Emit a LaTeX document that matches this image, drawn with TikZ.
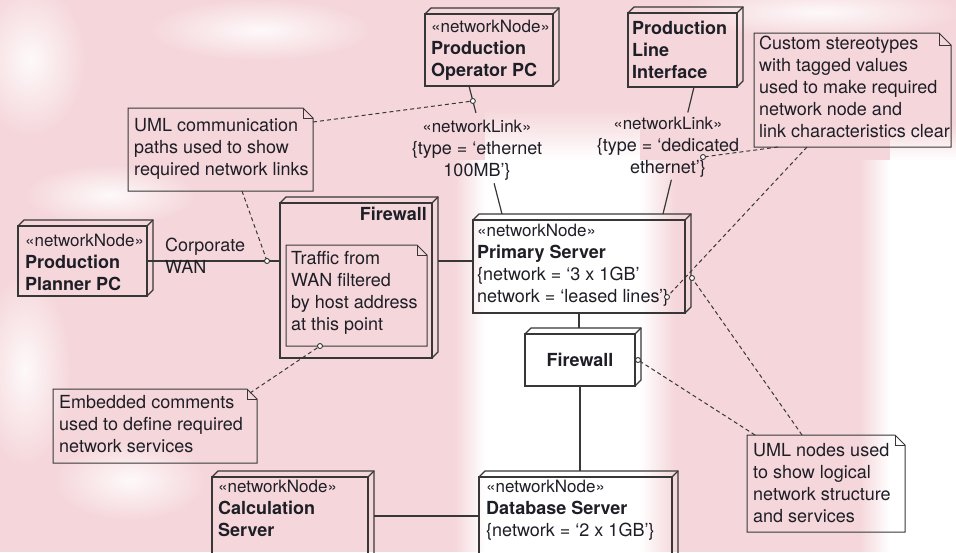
\documentclass[tikz,border=0pt]{standalone}
\usepackage{fontspec}
\setmainfont{TeX Gyre Heros}
\usetikzlibrary{calc}

\definecolor{bgpink}{RGB}{245,215,219}
\definecolor{ink}{RGB}{30,30,38}
\definecolor{edge}{RGB}{55,55,55}

% top and right faces of a 3D deployment node
\newcommand\extrude[1]{%
  \draw[boxline] (#1.north west) -- ([shift={(6pt,6pt)}]#1.north west)
     -- ([shift={(6pt,6pt)}]#1.north east) -- ([shift={(6pt,6pt)}]#1.south east)
     -- (#1.south east);
  \draw[boxline] (#1.north east) -- ([shift={(6pt,6pt)}]#1.north east);
}
% outline of a UML comment with a folded corner
\newcommand\drawnote[2][10pt]{%
  \draw[noteline] (#2.south west) -- (#2.north west) -- ([xshift=-#1]#2.north east)
     -- ([yshift=-#1]#2.north east) -- (#2.south east) -- cycle;
  \draw[noteline] ([xshift=-#1]#2.north east) |- ([yshift=-#1]#2.north east);
}
% stereotype keyword, set a little smaller than the names
\newcommand\stereo[1]{{\fontsize{17}{22}\selectfont«#1»}}

% stepped colour ramps between pink and white
% \hramp{x0}{x1}{y0}{y1}{1 = pink to white going right, 0 = white to pink}
\newcommand\hramp[5]{%
  \foreach \i in {0,...,19}{%
    \pgfmathsetmacro\xa{#1+(#2-#1)*\i/20}%
    \pgfmathsetmacro\xb{#1+(#2-#1)*(\i+1)/20+0.4}%
    \pgfmathtruncatemacro\pc{ifthenelse(#5==1,100*(\i+0.5)/20,100-100*(\i+0.5)/20)}%
    \fill[white!\pc!bgpink] (\xa,#3) rectangle (\xb,#4);
  }}
% \vramp{x0}{x1}{y0}{y1}: pink at y0 (top) to white at y1
\newcommand\vramp[4]{%
  \foreach \i in {0,...,19}{%
    \pgfmathsetmacro\ya{#3+(#4-#3)*\i/20}%
    \pgfmathsetmacro\yb{#3+(#4-#3)*(\i+1)/20+0.4}%
    \pgfmathtruncatemacro\pc{100*(\i+0.5)/20}%
    \fill[white!\pc!bgpink] (#1,\ya) rectangle (#2,\yb);
  }}

\tikzset{
  boxline/.style={draw=edge, line width=1.2pt, line join=miter},
  box3d/.style={boxline, rectangle, inner sep=0pt, outer sep=0pt, anchor=north west},
  notebody/.style={rectangle, inner sep=0pt, outer sep=0pt, anchor=north west},
  noteline/.style={draw=edge, line width=1pt},
  lbl/.style={inner sep=0pt, anchor=north west, align=left, text=ink,
              font=\fontsize{18}{22}\selectfont},
  link/.style={draw=edge, line width=1.2pt},
  notelink/.style={draw=edge, line width=1pt, dash pattern=on 4pt off 3pt},
  pin/.style={draw=edge, line width=0.9pt, fill=white},
  mottle/.style={inner color=white!85!bgpink, outer color=bgpink},
}

\begin{document}
\begin{tikzpicture}[x=1pt, y=-1pt]
\useasboundingbox (0,0) rectangle (956,552);
\clip (0,0) rectangle (956,552);

% backdrop: pink wash with white bands
\fill[bgpink] (0,0) rectangle (956,552);
\shade[mottle] (30,60) ellipse [x radius=55pt, y radius=75pt];
\shade[mottle] (110,195) ellipse [x radius=85pt, y radius=30pt];
\shade[mottle] (25,370) ellipse [x radius=45pt, y radius=95pt];
\shade[mottle] (130,480) ellipse [x radius=75pt, y radius=40pt];
\shade[mottle] (260,30) ellipse [x radius=110pt, y radius=30pt];
\shade[mottle] (820,12) ellipse [x radius=140pt, y radius=25pt];
% right white band
\vramp{890}{956}{125}{160}
\fill[white] (890,160) rectangle (956,552);
\hramp{860}{890}{160}{552}{1}
% central white band
\vramp{485}{640}{110}{160}
\fill[white] (485,160) rectangle (640,552);
\hramp{455}{485}{160}{552}{1}
\hramp{640}{675}{160}{552}{0}

% ---------- deployment nodes ----------
\node[box3d, minimum width=129pt, minimum height=70pt] (pp) at (18,226) {};
\extrude{pp}
\node[lbl] (ppT) at (25,234) {\stereo{networkNode}\\\textbf{Production}\\\textbf{Planner PC}};

\node[box3d, minimum width=128pt, minimum height=72pt] (op) at (425,14) {};
\extrude{op}
\node[lbl] (opT) at (431,20) {\stereo{networkNode}\\\textbf{Production}\\\textbf{Operator PC}};

\node[box3d, minimum width=109pt, minimum height=74pt] (pli) at (628,13) {};
\extrude{pli}
\node[lbl] (pliT) at (632,21) {\textbf{Production}\\\textbf{Line}\\\textbf{Interface}};

\node[box3d, minimum width=152pt, minimum height=155pt] (fwA) at (280,203) {};
\extrude{fwA}
\node[lbl, anchor=north east] (fwAT) at (427,207) {\textbf{Firewall}};

\node[box3d, minimum width=212pt, minimum height=93pt] (ps) at (473,220) {};
\extrude{ps}
\node[lbl] (psT) at (477,224) {\stereo{networkNode}\\\textbf{Primary Server}\\\{network = ‘3 x 1GB’\\network = ‘leased lines’\}};

\node[box3d, minimum width=110pt, minimum height=52pt, text=ink,
      font=\bfseries\fontsize{18}{22}\selectfont] (fwB) at (525,334) {Firewall};
\extrude{fwB}

\node[box3d, minimum width=193pt, minimum height=100pt] (db) at (479,477) {};
\extrude{db}
\node[lbl] (dbT) at (486,480) {\stereo{networkNode}\\\textbf{Database Server}\\\{network = ‘2 x 1GB’\}};

\node[box3d, minimum width=156pt, minimum height=100pt] (cs) at (212,477) {};
\extrude{cs}
\node[lbl] (csT) at (218,480) {\stereo{networkNode}\\\textbf{Calculation}\\\textbf{Server}};

% ---------- comments ----------
\node[notebody, minimum width=185pt, minimum height=83pt] (commN) at (128,108) {};
\drawnote{commN}
\node[lbl] (commT) at (134,118) {UML communication\\paths used to show\\required network links};

\node[notebody, minimum width=197pt, minimum height=114pt] (custN) at (754,33) {};
\drawnote[12pt]{custN}
\node[lbl] (custT) at (759,36) {Custom stereotypes\\with tagged values\\used to make required\\network node and\\link characteristics clear};

\node[notebody, minimum width=141pt, minimum height=101pt] (trafN) at (286,245) {};
\drawnote{trafN}
\node[lbl] (trafT) at (291,251) {Traffic from\\WAN filtered\\by host address\\at this point};

\node[notebody, minimum width=204pt, minimum height=74pt] (embN) at (53,389) {};
\drawnote{embN}
\node[lbl] (embT) at (59,395) {Embedded comments\\used to define required\\network services};

\node[notebody, minimum width=158pt, minimum height=97pt] (nodesN) at (747,435) {};
\drawnote{nodesN}
\node[lbl] (nodesT) at (753,443) {UML nodes used\\to show logical\\network structure\\and services};

% ---------- communication paths ----------
\draw[link] (pp.east) -- (pp.east -| fwA.west);
\node[lbl] (wanT) at (165,238) {Corporate\\WAN};

\draw[link] ([xshift=6pt]fwA.east |- pp.east) -- (ps.west |- pp.east);
\draw[link] (ps.south) -- ([yshift=6pt]ps.south |- fwB.north);
\draw[link] (fwB.south) -- ([yshift=6pt]fwB.south |- db.north);
\draw[link] ($(cs.north east)+(6,39)$) -- ($(db.north west)+(0,39)$);

\coordinate (opA) at ($(op.south west)+(44,0)$);
\coordinate (psA) at ($(ps.north west)+(29,-6)$);
\draw[link] (opA) -- ($(opA)!0.21!(psA)$);
\draw[link] ($(opA)!0.76!(psA)$) -- (psA);
\node[lbl, anchor=north, align=center] (lk1) at (477,120) {\stereo{networkLink}\\\{type = ‘ethernet\\100MB’\}};

\coordinate (pliA) at ($(pli.south west)+(66,0)$);
\coordinate (psB) at ($(ps.north west)+(190,-6)$);
\draw[link] (pliA) -- ($(pliA)!0.2!(psB)$);
\draw[link] ($(pliA)!0.73!(psB)$) -- (psB);
\node[lbl, anchor=north, align=center] (lk2) at (668,117) {\stereo{networkLink}\\\{type = ‘dedicated\\ethernet’\}};

% ---------- comment anchors ----------
\coordinate (pinOp) at ($(opA)!0.117!(psA)$);
\coordinate (pinWAN) at ($(pp.east -| fwA.west)+(-13,0)$);
\coordinate (pinEth) at (703,157);
\coordinate (pinLeased) at (667,297);
\coordinate (pinPs) at ($(ps.north east)+(7,58)$);
\coordinate (pinFwB) at ($(fwB.east)+(3,0)$);
\coordinate (pinTraf) at ($(trafN.south west)+(34,0)$);

\draw[notelink] ($(commN.north east)+(0,14)$) -- (pinOp);
\draw[notelink] ($(commN.south west)+(114,0)$) -- (pinWAN);
\draw[notelink] ($(custN.south west)+(24,0)$) -- (pinEth);
\draw[notelink] ($(custN.south west)+(53,0)$) -- (pinLeased);
\draw[notelink] ($(nodesN.north west)+(8,0)$) -- (pinFwB);
\draw[notelink] ($(nodesN.north west)+(55,0)$) -- (pinPs);
\draw[notelink] ($(embN.north east)+(-7,4)$) -- (pinTraf);

\foreach \p in {pinOp,pinWAN,pinEth,pinLeased,pinPs,pinFwB,pinTraf}
  \draw[pin] (\p) circle (2.5pt);
\end{tikzpicture}
\end{document}
